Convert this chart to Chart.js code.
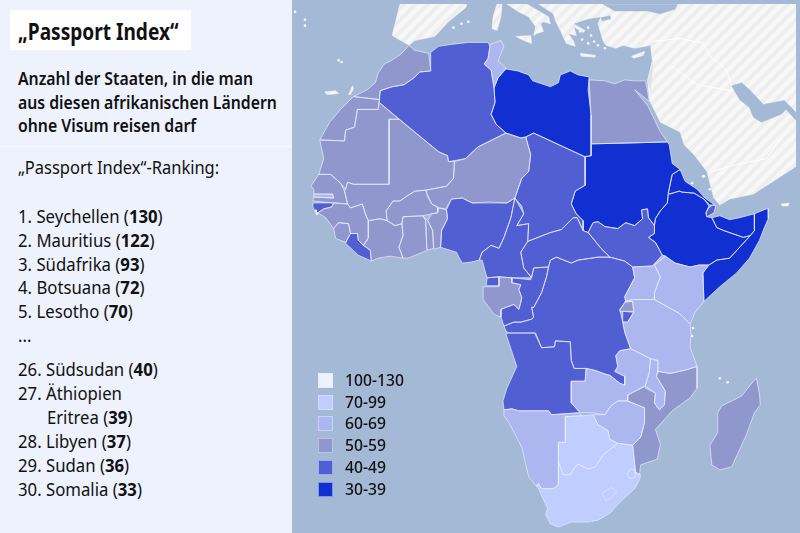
<!DOCTYPE html>
<html lang="de">
<head>
<meta charset="utf-8">
<title>Passport Index</title>
<script src="https://cdn.jsdelivr.net/npm/chart.js@4"></script>
<style>
html, body { margin: 0; padding: 0; }
body { width: 800px; height: 533px; overflow: hidden; position: relative; background: #a3b9d5; font-family: "Noto Sans", sans-serif; color: #111; }
#map { position: absolute; left: 0; top: 0; }
#panel { position: absolute; left: 0; top: 0; width: 292px; height: 533px; background: #eef2fc; }
#titlebox { position: absolute; left: 10px; top: 10px; width: 181px; height: 40px; background: #fff; }
.t { position: absolute; left: 18px; white-space: pre; transform-origin: left center; line-height: 24px; height: 24px; }
#rule { position: absolute; left: 0; top: 146px; width: 292px; height: 1px; background: #f7f9fe; }
.sw { position: absolute; left: 318px; width: 13px; height: 13px; border: 1px solid rgba(225,232,255,.55); }
.lg { position: absolute; left: 345px; font-size: 16px; font-weight: 500; white-space: pre; line-height: 20px; transform-origin: left center; transform: scaleX(.98); }
</style>
</head>
<body>
<canvas id="map" width="800" height="533"></canvas>
<div id="panel"><div id="titlebox"></div><div id="rule"></div></div>
<script>
// ranking text
const rankLabels = ["1. Seychellen", "2. Mauritius", "3. Südafrika", "4. Botsuana", "5. Lesotho"];
const rankValues = [130, 122, 93, 72, 70];
const lowLabels = ["26. Südsudan", "27. Äthiopien", "      \u2009Eritrea", "28. Libyen", "29. Sudan", "30. Somalia"];
const lowValues = [40, null, 39, 37, 36, 33];

// legend
const legendLabels = ["100-130", "70-99", "60-69", "50-59", "40-49", "30-39"];
const legendColors = ["#eef2fc", "#bfcdff", "#acb6ef", "#9097cc", "#525fd2", "#1230d2"];

// outside land and water, pixels of the picture
const landEast = [[540,0],[555,10],[557,17],[562,27],[568,40],[577,43],[575,37],[570,30],[578,32],[575,20],[590,15],[603,13],[600,20],[602,27],[605,37],[608,42],[618,45],[625,42],[637,45],[653,42],[655,58],[650,78],[652,98],[653,100],[663,120],[683,130],[687,143],[697,153],[710,170],[717,197],[723,204],[733,198],[757,193],[777,180],[797,167],[800,165],[800,0]];
const landSpain = [[400,0],[392,32],[409,42],[415,37],[435,33],[449,18],[467,3],[467,0]];
const landSardinia = [[498,0],[503,0],[502,13],[498,27],[493,25],[494,13]];
const landItaly = [[508,0],[528,0],[550,13],[552,20],[545,18],[542,20],[545,28],[538,30],[535,32],[537,23],[530,13],[520,8]];
const landSicily = [[517,33],[532,32],[533,40],[525,37]];
const landCrete = [[582,50],[597,52],[597,54],[583,53]];
const landEuboea = [[575,20],[587,27],[585,29],[577,24]];
const landCyprus = [[634,53],[647,48],[646,52],[636,55]];
const landCanary = [[324,89],[335,88],[338,91],[326,92]];
const landCanary2 = [[348,92],[352,83],[353,86],[350,92]];
const landSocotra = [[785,203],[793,202],[792,205],[786,205]];
const seaBlack = [[605,0],[617,7],[650,7],[663,10],[678,5],[680,0]];
const seaMarmara = [[603,14],[612,12],[613,15],[604,17]];
const seaGulf = [[735,83],[745,80],[753,87],[767,102],[788,98],[800,110],[800,118],[790,107],[785,112],[765,120],[757,115],[753,105],[743,97]];
const israel = [[655,57],[650,78],[653,87],[655,68]];
const borderEast1 = [[655,38],[683,35],[707,40],[713,53],[730,67],[735,83]];
const borderEast2 = [[675,63],[700,82],[735,88]];
const borderEast3 = [[715,170],[740,163],[770,157],[790,130]];
const smallIslands = [[294,8],[304,16],[304,22],[338,57],[341,59],[454,24],[462,20],[469,18],[582,28],[590,24],[593,32],[596,38],[590,40],[600,42],[607,45],[584,36],[315,210],[316,213],[707,175],[695,182],[713,188],[706,175],[723,380],[731,384],[696,329],[695,337]];

// countries, pixels of the picture
const morocco = [[409,42],[402,50],[392,57],[384,61],[378,70],[375,80],[367,87],[353,94],[379,97],[380,88],[392,84],[404,82],[414,75],[420,69],[431,68],[429,50],[415,47]];
const westSahara = [[353,94],[379,97],[378,107],[357,107],[354,125],[345,128],[344,139],[319,138],[329,120],[340,107]];
const algeria = [[431,49],[439,43],[452,41],[469,39],[489,39],[491,43],[489,55],[485,61],[492,67],[495,85],[496,100],[492,112],[497,122],[507,131],[479,145],[466,157],[449,160],[448,154],[439,150],[379,100],[380,88],[392,84],[404,82],[414,75],[420,69],[431,68]];
const tunisia = [[491,41],[502,37],[505,43],[502,50],[499,58],[507,65],[499,75],[495,85],[492,67],[485,61],[489,55]];
const libya = [[507,66],[519,68],[530,72],[534,78],[552,84],[560,80],[562,72],[572,68],[580,72],[591,74],[590,87],[593,113],[593,154],[586,155],[535,131],[527,135],[522,136],[507,131],[497,122],[492,112],[496,100],[495,85],[499,75]];
const egypt = [[591,77],[607,78],[617,81],[627,77],[637,78],[648,78],[652,99],[637,87],[650,103],[655,113],[662,128],[670,140],[635,141],[593,142],[593,113]];
const sudan = [[593,142],[635,141],[670,140],[672,143],[675,162],[683,168],[675,173],[671,192],[670,202],[663,210],[658,218],[657,225],[651,217],[650,208],[644,209],[645,218],[637,225],[628,222],[620,228],[607,226],[600,221],[595,222],[590,232],[585,230],[585,220],[578,213],[573,203],[577,190],[587,184],[587,155],[593,154]];
const eritrea = [[683,168],[688,180],[700,188],[708,197],[718,204],[713,204],[707,198],[697,192],[685,191],[682,190],[673,193],[671,192],[675,173]];
const djibouti = [[712,207],[716,204],[719,205],[717,212],[710,216],[709,212]];
const ethiopia = [[671,193],[682,190],[685,191],[697,192],[707,198],[712,205],[709,212],[710,216],[715,217],[720,227],[727,230],[747,237],[754,235],[733,258],[720,260],[712,265],[702,265],[693,267],[678,263],[668,256],[665,255],[658,242],[651,237],[657,233],[657,225],[658,218],[663,210],[670,202]];
const somaliland = [[715,217],[723,215],[733,219],[743,217],[758,213],[758,230],[754,235],[747,237],[727,230],[720,227]];
const somalia = [[758,213],[770,208],[772,208],[772,218],[768,227],[763,240],[753,258],[740,273],[723,287],[707,302],[706,273],[712,265],[720,260],[733,258],[754,235],[758,230]];
const kenya = [[668,256],[678,263],[693,267],[702,265],[712,265],[706,273],[707,302],[698,313],[693,325],[682,314],[657,300],[657,293],[663,277],[657,265]];
const uganda = [[665,255],[668,256],[657,265],[663,277],[657,293],[657,300],[635,300],[628,302],[627,297],[637,278],[635,267],[655,266]];
const southSudan = [[657,225],[651,217],[650,208],[644,209],[645,218],[637,225],[628,222],[620,228],[607,226],[600,221],[595,222],[590,232],[595,238],[603,248],[612,257],[627,261],[635,267],[655,266],[665,255],[658,242],[651,237],[657,233]];
const car = [[529,241],[552,232],[563,229],[575,217],[579,217],[585,230],[590,232],[595,238],[603,248],[612,257],[600,257],[580,260],[573,263],[558,257],[552,260],[550,267],[535,268],[533,278],[525,268],[522,252]];
const chad = [[527,135],[535,131],[587,155],[587,184],[577,190],[573,203],[578,213],[585,220],[585,230],[579,217],[575,217],[563,229],[552,232],[529,241],[530,223],[518,225],[525,213],[523,205],[516,197],[523,177],[530,170],[532,153]];
const niger = [[455,160],[466,157],[479,145],[507,131],[522,136],[527,135],[532,153],[530,170],[523,177],[516,197],[508,202],[490,202],[473,202],[463,197],[452,198],[446,208],[440,207],[432,203],[428,196],[426,189],[447,185],[454,177]];
const benin = [[439,207],[447,209],[448,218],[442,230],[441,247],[434,249],[433,230],[428,220],[432,213],[438,212]];
const nigeria = [[447,209],[452,198],[463,197],[473,202],[490,201],[508,202],[516,197],[512,217],[505,237],[500,248],[492,245],[483,252],[480,260],[472,262],[463,263],[460,258],[457,252],[441,247],[442,230],[448,218]];
const cameroon = [[516,197],[525,213],[518,225],[530,223],[529,241],[522,252],[525,268],[533,278],[513,278],[500,277],[488,278],[487,275],[483,260],[480,260],[483,252],[492,245],[500,248],[505,237],[512,217]];
const eqGuinea = [[488,278],[500,277],[500,286],[487,286]];
const gabon = [[484,287],[500,287],[500,277],[513,278],[513,283],[522,285],[520,290],[523,298],[522,303],[520,310],[515,305],[507,308],[502,310],[502,318],[495,315],[484,300]];
const congo = [[513,278],[532,280],[535,268],[550,267],[548,277],[543,293],[535,308],[533,308],[535,318],[533,320],[522,323],[515,323],[505,327],[502,318],[502,310],[507,308],[515,305],[520,310],[522,303],[523,298],[520,290],[522,285],[513,283]];
const drc = [[550,267],[552,260],[558,257],[573,263],[580,260],[600,257],[612,257],[627,261],[635,267],[637,278],[627,297],[628,302],[622,310],[625,323],[627,333],[633,350],[622,352],[618,357],[620,368],[617,373],[627,378],[627,387],[622,385],[612,377],[608,376],[597,372],[588,370],[576,370],[573,362],[572,343],[557,342],[556,348],[543,349],[537,334],[510,334],[507,332],[505,327],[515,323],[522,323],[533,320],[535,318],[533,308],[535,308],[543,293],[548,277]];
const rwanda = [[622,311],[627,303],[635,302],[636,312],[622,312]];
const burundi = [[625,312],[636,313],[630,323],[625,323]];
const tanzania = [[627,302],[635,300],[657,300],[682,314],[693,325],[694,335],[693,348],[700,368],[687,372],[673,375],[660,373],[661,362],[653,360],[633,350],[627,333],[625,323],[630,323],[636,313],[636,310],[635,302]];
const zambia = [[573,383],[587,383],[588,370],[597,372],[608,376],[612,377],[622,385],[627,387],[627,378],[617,373],[620,368],[618,357],[622,352],[633,350],[653,360],[652,373],[648,387],[630,397],[630,403],[620,403],[613,408],[607,417],[595,415],[582,415],[573,405]];
const malawi = [[653,360],[660,362],[661,373],[659,378],[668,393],[667,407],[662,412],[657,405],[658,395],[648,390],[648,387],[652,373]];
const mozambique = [[660,373],[673,375],[687,372],[700,368],[700,390],[693,400],[675,413],[658,432],[663,447],[660,462],[643,468],[642,478],[638,477],[635,448],[643,440],[647,425],[647,410],[630,403],[630,397],[648,388],[658,395],[657,405],[662,412],[667,407],[668,393],[659,378]];
const zimbabwe = [[595,417],[607,417],[613,408],[620,403],[630,403],[647,410],[647,425],[643,440],[635,448],[620,446],[612,442],[610,433],[600,427]];
const botswana = [[567,419],[584,418],[595,417],[600,427],[610,433],[612,442],[620,446],[605,458],[597,470],[590,472],[579,467],[572,478],[565,478],[560,465],[560,445],[567,445]];
const namibia = [[505,412],[513,411],[520,413],[550,413],[553,417],[580,415],[584,418],[567,419],[567,445],[560,445],[560,488],[555,492],[543,492],[540,487],[538,490],[530,480],[523,450],[510,425],[505,418]];
const southAfrica = [[560,465],[565,478],[572,478],[579,467],[590,472],[597,470],[605,458],[620,446],[635,448],[638,475],[643,478],[642,483],[637,492],[623,505],[612,517],[600,524],[590,526],[573,526],[560,531],[552,528],[547,518],[549,512],[538,488],[540,487],[543,492],[555,492],[560,488]];
const eswatini = [[629,477],[633,472],[637,473],[638,480],[632,482]];
const lesotho = [[604,497],[613,491],[619,495],[613,502],[608,504]];
const angola = [[510,334],[536,334],[543,349],[556,348],[557,342],[572,343],[573,362],[576,370],[588,370],[587,383],[573,383],[573,405],[582,415],[553,417],[550,413],[520,413],[513,411],[505,412],[504,403],[508,390],[518,368],[513,353],[507,335]];
const madagascar = [[760,380],[763,395],[764,407],[758,415],[750,437],[735,470],[723,473],[715,468],[713,448],[721,435],[721,415],[725,408],[745,398],[757,383]];
const mauritania = [[319,138],[344,139],[345,128],[354,125],[357,107],[378,107],[379,100],[399,117],[389,117],[389,183],[353,183],[347,181],[345,188],[340,182],[330,173],[318,173],[323,157]];
const mali = [[389,117],[399,117],[439,150],[448,154],[449,160],[455,160],[454,177],[447,185],[426,189],[415,190],[407,195],[400,200],[393,200],[386,210],[387,220],[380,218],[368,220],[365,213],[362,203],[350,207],[347,203],[344,190],[345,188],[347,181],[353,183],[389,183]];
const senegal = [[310,185],[318,173],[330,173],[340,182],[344,190],[347,203],[333,202],[312,200],[313,196],[333,197],[332,193],[313,193],[313,188]];
const gambia = [[313,193],[332,193],[333,197],[313,196]];
const guineaBissau = [[312,202],[333,202],[331,206],[323,208],[317,212],[314,210],[312,206]];
const guinea = [[333,202],[347,203],[350,207],[362,203],[365,213],[368,220],[368,237],[363,245],[358,240],[357,233],[350,233],[348,223],[338,222],[333,228],[325,217],[317,212],[323,208],[331,206]];
const sierraLeone = [[333,228],[338,222],[348,223],[350,233],[345,242],[335,238]];
const liberia = [[350,233],[357,233],[358,240],[363,245],[370,250],[371,261],[358,255],[345,243]];
const ivoryCoast = [[368,220],[380,218],[387,220],[395,225],[402,223],[403,235],[399,247],[403,258],[390,256],[378,258],[371,261],[370,250],[363,245],[367,240],[368,237]];
const burkina = [[387,220],[386,210],[393,200],[400,200],[407,195],[415,190],[426,189],[432,203],[438,207],[438,212],[432,213],[423,215],[403,216],[402,223],[395,225]];
const ghana = [[403,216],[423,215],[426,220],[427,248],[428,250],[408,258],[403,258],[399,247],[403,235],[402,223]];
const togo = [[423,215],[428,220],[433,230],[434,248],[428,250],[427,248],[426,220]];

// hatch for the land outside Africa
function hatch() {
  const tile = document.createElement("canvas");
  tile.width = 12; tile.height = 12;
  const c = tile.getContext("2d");
  c.fillStyle = "#f7f7f7";
  c.fillRect(0, 0, 12, 12);
  c.strokeStyle = "#eeeeee";
  c.lineWidth = 4;
  c.beginPath();
  c.moveTo(-3, 15); c.lineTo(15, -3);
  c.moveTo(-9, 9); c.lineTo(9, -9);
  c.moveTo(3, 21); c.lineTo(21, 3);
  c.stroke();
  return document.getElementById("map").getContext("2d").createPattern(tile, "repeat");
}
const land = hatch();
const sea = "#a3b9d5";
const line = "rgba(228,234,255,.8)";
const [c100, c70, c60, c50, c40, c30] = legendColors;

function shape(points, fillColor, borderColor, width) {
  const ds = {
    data: points.concat([points[0]]).map(p => ({ x: p[0], y: p[1] })),
    showLine: true,
    pointRadius: 0,
    borderWidth: width === undefined ? .9 : width,
    borderColor: borderColor || line,
    tension: 0
  };
  if (fillColor) ds.backgroundColor = fillColor;
  return ds;
}
function path(points, borderColor) {
  return {
    data: points.map(p => ({ x: p[0], y: p[1] })),
    showLine: true, pointRadius: 0, borderWidth: 1, borderColor: borderColor, tension: 0
  };
}

const datasets = [
  ...[landEast, landSpain, landSardinia, landItaly, landSicily, landCrete, landEuboea, landCyprus, landCanary, landCanary2, landSocotra].map(p => shape(p, land, "#f7f7f7", .5)),
  shape(israel, "#e2e2e2", "#e2e2e2", .5),
  ...[seaBlack, seaMarmara, seaGulf].map(p => shape(p, sea, sea, .5)),
  ...[borderEast1, borderEast2, borderEast3].map(p => path(p, "#ffffff")),
  { data: smallIslands.map(p => ({ x: p[0], y: p[1] })), showLine: false, pointRadius: 1.3, pointBorderWidth: 0, pointBackgroundColor: "#f7f7f7" },
  ...[morocco, westSahara, egypt, mauritania, mali, senegal, guinea, sierraLeone, ivoryCoast, burkina, ghana, togo, benin, niger, gabon, rwanda, mozambique, madagascar].map(p => shape(p, c50)),
  ...[tunisia, gambia, uganda, kenya, tanzania, zambia, malawi, zimbabwe, namibia, eswatini].map(p => shape(p, c60)),
  ...[botswana, southAfrica, lesotho].map(p => shape(p, c70)),
  ...[algeria, guineaBissau, liberia, nigeria, cameroon, eqGuinea, chad, car, southSudan, congo, drc, burundi, angola, djibouti].map(p => shape(p, c40)),
  ...[libya, sudan, eritrea, ethiopia, somaliland, somalia].map(p => shape(p, c30))
];
// Chart.js paints the first dataset last, and the list above runs bottom to top
datasets.reverse();

// Chart.js has no closed polygon fill, so fill all lines from their parsed points
// before any of them is stroked, that keeps the borders whole
const polygonFill = {
  id: "polygonFill",
  beforeDatasetsDraw(chart) {
    const ctx = chart.ctx;
    ctx.save();
    for (let i = chart.data.datasets.length - 1; i >= 0; i--) {
      const ds = chart.data.datasets[i];
      if (!ds.backgroundColor) continue;
      ctx.beginPath();
      chart.getDatasetMeta(i).data.forEach((p, n) => n ? ctx.lineTo(p.x, p.y) : ctx.moveTo(p.x, p.y));
      ctx.closePath();
      ctx.fillStyle = ds.backgroundColor;
      ctx.fill();
    }
    ctx.restore();
  }
};

new Chart(document.getElementById("map"), {
  type: "scatter",
  data: { datasets: datasets },
  plugins: [polygonFill],
  options: {
    responsive: false,
    animation: false,
    layout: { padding: 0 },
    plugins: { legend: { display: false }, tooltip: { enabled: false } },
    scales: {
      x: { type: "linear", min: 0, max: 800, display: false },
      y: { type: "linear", min: 0, max: 533, reverse: true, display: false }
    }
  }
});

// text of the left panel and the legend
const panel = document.getElementById("panel");
function text(str, centerY, size, weight, squeeze, value) {
  const d = document.createElement("div");
  d.className = "t";
  d.style.top = (centerY - 12) + "px";
  d.style.fontSize = size + "px";
  d.style.fontWeight = weight;
  d.style.transform = "scaleX(" + squeeze + ")";
  d.textContent = str;
  if (value !== undefined && value !== null) {
    d.append(" (");
    const b = document.createElement("b");
    b.textContent = value;
    d.append(b, ")");
  }
  panel.appendChild(d);
}
text("„Passport Index“", 31, 23, 700, .83);
text("Anzahl der Staaten, in die man", 78, 18, 600, .878);
text("aus diesen afrikanischen Ländern", 102, 18, 600, .878);
text("ohne Visum reisen darf", 125, 18, 600, .878);
text("„Passport Index“-Ranking:", 167, 18, 400, .915);
rankLabels.forEach((l, i) => text(l, 216 + i * 23.8, 18, 400, .93, rankValues[i]));
text("...", 335, 18, 400, .93);
lowLabels.forEach((l, i) => text(l, 369 + i * 24, 18, 400, .93, lowValues[i]));

legendLabels.forEach((l, i) => {
  const y = 373 + i * 21.7;
  const s = document.createElement("div");
  s.className = "sw";
  s.style.top = y + "px";
  s.style.background = legendColors[i];
  document.body.appendChild(s);
  const t = document.createElement("div");
  t.className = "lg";
  t.style.top = (y - 3) + "px";
  t.textContent = l;
  document.body.appendChild(t);
});
</script>
</body>
</html>
